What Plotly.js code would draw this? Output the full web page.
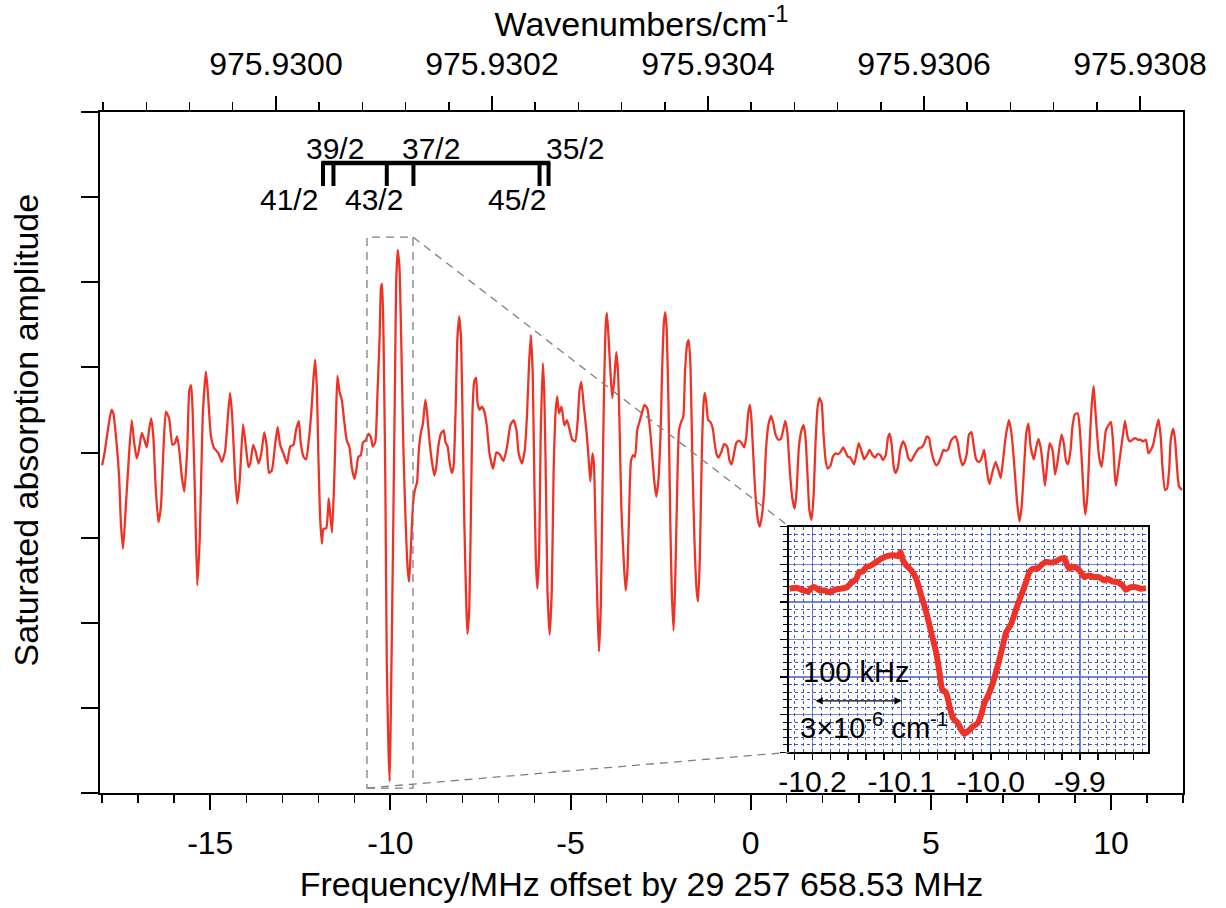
<!DOCTYPE html>
<html>
<head>
<meta charset="utf-8">
<script src="https://cdn.plot.ly/plotly-3.0.1.min.js"></script>
<style>
html,body{margin:0;padding:0;background:#fff;}
#chart{width:1226px;height:908px;}
</style>
</head>
<body>
<div id="chart"></div>
<script>
// ---------------- data ----------------
const freqMHz = [
-18.00,-17.92,-17.83,-17.74,-17.69,-17.60,-17.53,-17.48,-17.42,-17.35,-17.27,-17.18,-17.11,-17.04,-16.98,-16.90,-16.83,-16.76,-16.70,-16.64,
-16.58,-16.51,-16.44,-16.37,-16.30,-16.23,-16.14,-16.05,-15.98,-15.92,-15.86,-15.79,-15.72,-15.64,-15.58,-15.53,-15.49,-15.42,-15.36,-15.29,
-15.21,-15.12,-15.07,-14.98,-14.89,-14.77,-14.68,-14.59,-14.51,-14.45,-14.39,-14.31,-14.25,-14.18,-14.09,-14.01,-13.94,-13.89,-13.81,-13.74,
-13.66,-13.59,-13.50,-13.43,-13.37,-13.29,-13.20,-13.13,-13.06,-12.97,-12.87,-12.78,-12.69,-12.62,-12.54,-12.49,-12.41,-12.34,-12.26,-12.19,
-12.14,-12.09,-12.04,-12.00,-11.95,-11.90,-11.86,-11.78,-11.71,-11.67,-11.62,-11.56,-11.51,-11.47,-11.41,-11.35,-11.27,-11.21,-11.14,-11.07,
-11.00,-10.95,-10.89,-10.82,-10.76,-10.69,-10.61,-10.54,-10.49,-10.42,-10.36,-10.30,-10.26,-10.23,-10.19,-10.14,-10.10,-10.05,-10.02,-9.99,
-9.93,-9.87,-9.84,-9.80,-9.75,-9.70,-9.64,-9.58,-9.52,-9.48,-9.43,-9.37,-9.32,-9.26,-9.21,-9.15,-9.10,-9.03,-8.99,-8.91,
-8.85,-8.78,-8.73,-8.67,-8.60,-8.52,-8.47,-8.41,-8.36,-8.30,-8.25,-8.19,-8.14,-8.09,-8.04,-8.00,-7.95,-7.89,-7.86,-7.81,
-7.76,-7.72,-7.67,-7.62,-7.58,-7.52,-7.46,-7.39,-7.32,-7.25,-7.15,-7.06,-6.97,-6.86,-6.76,-6.67,-6.58,-6.50,-6.44,-6.35,
-6.27,-6.21,-6.15,-6.10,-6.05,-6.00,-5.96,-5.92,-5.87,-5.83,-5.77,-5.73,-5.68,-5.64,-5.58,-5.52,-5.47,-5.41,-5.37,-5.32,
-5.25,-5.17,-5.10,-5.02,-4.95,-4.87,-4.80,-4.75,-4.70,-4.64,-4.56,-4.50,-4.45,-4.39,-4.35,-4.30,-4.25,-4.21,-4.16,-4.12,
-4.07,-4.02,-3.99,-3.94,-3.89,-3.84,-3.78,-3.73,-3.68,-3.64,-3.59,-3.52,-3.47,-3.42,-3.37,-3.32,-3.26,-3.21,-3.15,-3.10,
-3.02,-2.95,-2.87,-2.80,-2.73,-2.67,-2.62,-2.56,-2.50,-2.46,-2.41,-2.37,-2.33,-2.28,-2.23,-2.19,-2.14,-2.10,-2.04,-1.99,
-1.93,-1.87,-1.82,-1.76,-1.72,-1.67,-1.62,-1.56,-1.50,-1.46,-1.41,-1.35,-1.30,-1.27,-1.23,-1.18,-1.12,-1.05,-1.00,-0.94,
-0.89,-0.81,-0.74,-0.65,-0.59,-0.53,-0.47,-0.40,-0.33,-0.25,-0.18,-0.12,-0.07,-0.02,0.02,0.07,0.13,0.20,0.25,0.31,
0.37,0.43,0.50,0.57,0.63,0.69,0.77,0.84,0.89,0.96,1.02,1.08,1.15,1.22,1.27,1.34,1.41,1.47,1.52,1.58,
1.63,1.69,1.75,1.80,1.86,1.91,1.97,2.02,2.08,2.14,2.22,2.28,2.36,2.43,2.50,2.57,2.63,2.70,2.77,2.87,
2.94,3.00,3.08,3.15,3.23,3.30,3.38,3.45,3.52,3.60,3.67,3.75,3.81,3.86,3.91,3.97,4.02,4.09,4.15,4.23,
4.30,4.38,4.45,4.52,4.60,4.67,4.75,4.82,4.89,4.95,5.00,5.08,5.15,5.23,5.30,5.35,5.41,5.49,5.55,5.62,
5.69,5.75,5.81,5.88,5.94,6.00,6.06,6.13,6.18,6.25,6.32,6.39,6.48,6.52,6.58,6.63,6.71,6.80,6.88,6.94,
7.00,7.08,7.17,7.25,7.32,7.39,7.46,7.52,7.60,7.65,7.71,7.77,7.86,7.93,7.99,8.06,8.13,8.17,8.24,8.30,
8.38,8.45,8.51,8.58,8.63,8.69,8.75,8.81,8.88,8.93,9.00,9.08,9.13,9.19,9.25,9.29,9.35,9.41,9.47,9.52,
9.56,9.62,9.67,9.74,9.80,9.86,9.93,10.00,10.06,10.11,10.14,10.20,10.27,10.34,10.39,10.46,10.52,10.60,10.67,10.75,
10.82,10.89,10.97,11.04,11.11,11.17,11.25,11.32,11.38,11.43,11.50,11.56,11.62,11.66,11.73,11.78,11.84,11.89,11.97
];
const amplitude = [
-0.15,0.03,0.30,0.50,0.46,0.11,-0.28,-0.83,-1.13,-0.68,-0.13,0.38,0.11,-0.07,0.03,0.23,0.15,0.06,0.26,0.40,
0.19,-0.44,-0.82,-0.64,0.03,0.48,0.40,0.09,0.11,0.19,0.03,-0.28,-0.46,0.03,0.73,0.79,0.50,-0.56,-1.56,-0.99,
0.42,0.95,0.73,0.19,0.05,-0.01,-0.11,0.01,0.42,0.70,0.42,-0.28,-0.60,-0.32,0.33,0.07,-0.17,-0.13,0.09,0.01,
-0.13,-0.03,0.24,0.07,-0.24,-0.21,0.09,0.30,0.09,-0.01,-0.13,0.07,0.09,0.26,0.37,0.12,-0.05,-0.08,0.16,0.50,
0.84,1.09,0.75,-0.01,-0.77,-1.07,-0.90,-0.89,-0.54,-0.73,-0.94,-0.35,0.41,0.90,0.71,0.62,0.33,0.14,0.07,-0.18,
-0.31,-0.22,-0.05,-0.03,0.12,0.14,0.22,0.18,0.07,0.12,0.67,1.34,1.94,1.98,1.34,-0.35,-2.47,-3.53,-3.86,-3.10,
-1.20,0.92,1.98,2.38,2.19,1.34,0.07,-0.77,-1.37,-1.52,-1.11,-0.60,-0.44,-0.35,0.03,0.24,0.33,0.62,0.50,0.12,
-0.10,-0.27,-0.18,0.07,0.22,0.26,0.12,0.07,-0.10,-0.24,-0.18,0.50,1.34,1.60,1.34,0.50,-0.77,-1.83,-2.13,-1.83,
-0.56,0.50,0.84,0.88,0.58,0.50,0.54,0.48,0.30,-0.01,-0.19,0.00,-0.02,-0.10,0.07,0.32,0.38,0.26,-0.01,-0.13,
0.03,0.42,1.05,1.38,0.93,-0.44,-1.30,-1.60,-1.15,0.15,1.05,0.73,-0.44,-1.62,-2.14,-1.62,-0.24,0.50,0.66,0.46,
0.54,0.32,0.38,0.26,0.15,0.13,0.38,0.73,0.83,0.58,0.26,-0.05,-0.34,-0.01,-0.13,-1.03,-1.85,-2.34,-1.81,-0.64,
0.73,1.52,1.64,1.32,0.93,0.64,0.89,1.18,0.93,0.34,-0.64,-1.30,-1.62,-1.38,-0.64,-0.09,-0.03,-0.05,0.26,0.34,
0.46,0.56,0.52,0.30,-0.05,-0.36,-0.52,-0.32,0.23,0.93,1.52,1.65,1.44,0.54,-0.83,-1.62,-2.09,-1.62,-0.44,0.26,
0.36,0.42,0.97,1.28,1.32,1.01,-0.05,-1.03,-1.62,-1.75,-1.22,0.11,0.62,0.70,0.58,0.38,0.36,0.28,0.11,-0.03,
-0.06,0.01,0.10,0.07,-0.09,-0.14,-0.03,0.11,0.14,0.11,0.06,0.19,0.46,0.56,0.40,-0.01,-0.48,-0.79,-0.87,-0.75,
-0.48,0.07,0.34,0.43,0.34,0.21,0.15,0.16,0.24,0.37,0.23,-0.17,-0.52,-0.66,-0.48,0.07,0.26,0.32,0.19,-0.28,
-0.68,-0.79,-0.48,0.11,0.54,0.64,0.58,0.23,-0.09,-0.19,-0.15,-0.05,-0.01,-0.02,0.01,0.06,0.01,-0.05,-0.06,-0.14,
-0.01,0.11,0.01,-0.08,-0.03,0.03,-0.03,-0.06,-0.02,-0.03,-0.09,-0.03,0.17,0.22,0.11,-0.17,-0.24,-0.17,0.03,0.13,
0.07,-0.07,-0.10,-0.05,0.01,0.05,0.06,0.11,0.19,0.17,0.05,-0.09,-0.15,-0.11,-0.03,0.03,0.02,0.04,0.13,0.17,
0.19,0.11,-0.05,-0.15,-0.11,-0.01,0.21,0.24,0.11,-0.07,-0.11,-0.09,0.03,-0.09,-0.28,-0.37,-0.23,-0.11,-0.21,-0.30,
-0.11,0.19,0.38,0.19,-0.17,-0.56,-0.81,-0.64,-0.09,0.23,0.34,0.07,-0.08,0.07,0.16,0.03,-0.24,-0.39,-0.09,0.11,
0.03,-0.26,-0.13,0.09,0.21,0.11,-0.09,-0.14,0.03,0.30,0.45,0.46,0.30,-0.09,-0.56,-0.73,-0.48,0.11,0.58,0.78,
0.54,0.19,-0.05,-0.17,0.03,0.26,0.32,0.36,0.11,-0.28,-0.39,-0.21,0.01,0.23,0.37,0.19,0.13,0.15,0.17,0.15,
0.15,0.13,0.15,-0.01,0.03,0.09,0.26,0.39,0.19,-0.17,-0.44,-0.42,-0.17,0.15,0.28,0.15,-0.21,-0.40,-0.44
];

// zoomed line shape (inset)
const insetFreq = [
-10.2261,-10.2179,-10.2104,-10.2049,-10.2011,-10.1974,-10.1918,-10.1862,-10.1806,-10.1750,-10.1694,-10.1619,-10.1563,-10.1507,-10.1478,-10.1433,
-10.1396,-10.1358,-10.1284,-10.1228,-10.1172,-10.1097,-10.1041,-10.1011,-10.0985,-10.0948,-10.0892,-10.0836,-10.0780,-10.0724,-10.0668,-10.0612,
-10.0575,-10.0545,-10.0500,-10.0463,-10.0425,-10.0369,-10.0332,-10.0295,-10.0257,-10.0201,-10.0146,-10.0108,-10.0071,-10.0034,-9.9996,-9.9959,
-9.9903,-9.9866,-9.9828,-9.9772,-9.9716,-9.9660,-9.9604,-9.9567,-9.9530,-9.9474,-9.9437,-9.9381,-9.9325,-9.9269,-9.9213,-9.9175,
-9.9146,-9.9119,-9.9063,-9.9007,-9.8951,-9.8896,-9.8840,-9.8784,-9.8728,-9.8690,-9.8634,-9.8578,-9.8522,-9.8485,-9.8429,-9.8373,-9.8317,-9.8261
];
const insetAmp = [
4.348,4.375,4.304,4.277,4.366,4.393,4.304,4.304,4.259,4.321,4.348,4.384,4.509,4.616,4.795,4.813,
4.929,4.955,5.063,5.152,5.214,5.241,5.223,5.330,5.107,4.973,4.839,4.616,4.170,3.723,3.188,2.652,
2.116,1.670,1.580,1.223,0.911,0.777,0.598,0.491,0.554,0.688,0.777,1.000,1.313,1.491,1.714,1.982,
2.473,2.830,3.188,3.411,3.813,4.170,4.527,4.795,4.884,4.884,4.973,5.063,5.045,5.080,5.152,5.170,
4.991,4.884,4.929,4.839,4.661,4.705,4.661,4.661,4.571,4.616,4.545,4.527,4.438,4.321,4.393,4.393,4.348,4.366
];

// hyperfine component markers (MHz) and their F labels
const compFreq  = [-11.87, -11.58, -10.10, -9.36, -5.86, -5.61];
const compLabel = ['41/2', '39/2', '43/2', '37/2', '45/2', '35/2'];
const compSide  = ['low', 'high', 'low', 'high', 'low', 'high'];

// tick labels
const bottomTickVals = [-15, -10, -5, 0, 5, 10];
const bottomTickText = ['-15', '-10', '-5', '0', '5', '10'];
const insetLabelVals = [-10.2, -10.1, -10.0, -9.9];
const insetLabelText = ['-10.2', '-10.1', '-10.0', '-9.9'];

const offsetMHz = 29257658.53;      // frequency offset
const mhzPerWavenumber = 29979.2458; // MHz per cm^-1

// ---------------- layout helpers ----------------
const FONT = 'Liberation Sans, Arial, Helvetica, sans-serif';
const xRange = [-18.06, 12.0];
const wnRange = xRange.map(f => (offsetMHz + f) / mhzPerWavenumber);
const insetXRange = [-10.226, -9.824];
const insetYRange = [0, 6];

const red = '#ee3326';
const gridSolid = '#7486d8';
const gridDot = '#4257c4';

const traces = [
  {x: freqMHz, y: amplitude, type: 'scatter', mode: 'lines',
   line: {color: red, width: 2.3, shape: 'spline', smoothing: 0.5},
   xaxis: 'x', yaxis: 'y', hoverinfo: 'skip', showlegend: false},
  {x: wnRange, y: [0, 0], type: 'scatter', mode: 'lines', opacity: 0,
   line: {width: 1}, xaxis: 'x2', yaxis: 'y', hoverinfo: 'skip', showlegend: false},
  {x: insetXRange, y: [3, 3], type: 'scatter', mode: 'lines', opacity: 0,
   line: {width: 1}, xaxis: 'x4', yaxis: 'y3', hoverinfo: 'skip', showlegend: false},
  {x: insetFreq, y: insetAmp, type: 'scatter', mode: 'lines',
   line: {color: red, width: 6, shape: 'spline', smoothing: 0.4},
   xaxis: 'x3', yaxis: 'y3', hoverinfo: 'skip', showlegend: false}
];

const shapes = [];
// hyperfine comb
shapes.push({type: 'line', xref: 'x', yref: 'paper',
  x0: Math.min(...compFreq) - 0.05, x1: Math.max(...compFreq) + 0.05, y0: 0.9251, y1: 0.9251,
  line: {color: 'black', width: 4.5}});
compFreq.forEach(f => shapes.push({type: 'line', xref: 'x', yref: 'paper',
  x0: f, x1: f, y0: 0.9251, y1: 0.8913, line: {color: 'black', width: 4}}));
// dashed zoom box and connectors
const dash = '8px,6px';
const gray = '#7f7f7f';
shapes.push({type: 'rect', xref: 'paper', yref: 'paper', x0: 0.2465, x1: 0.2890, y0: 0.0073, y1: 0.8164,
  line: {color: gray, width: 1.3, dash: dash}, layer: 'above'});
shapes.push({type: 'line', xref: 'paper', yref: 'paper', x0: 0.2890, y0: 0.8164, x1: 0.6365, y1: 0.3910,
  line: {color: gray, width: 1.3, dash: dash}, layer: 'above'});
shapes.push({type: 'line', xref: 'paper', yref: 'paper', x0: 0.2465, y0: 0.0073, x1: 0.6365, y1: 0.0598,
  line: {color: gray, width: 1.3, dash: dash}, layer: 'above'});

const annotations = [];
const labelShift = {'41/2': -34, '39/2': 2, '43/2': -13, '37/2': 18, '45/2': -23, '35/2': 26};
compFreq.forEach((f, i) => annotations.push({
  x: f, xref: 'x', y: compSide[i] === 'high' ? 0.947 : 0.871, yref: 'paper',
  text: compLabel[i], showarrow: false, xshift: labelShift[compLabel[i]],
  xanchor: 'center', yanchor: 'middle', font: {family: FONT, size: 30, color: 'black'}}));
annotations.push({x: -10.213, xref: 'x3', y: 2.14, yref: 'y3', text: '100 kHz', showarrow: false,
  xanchor: 'left', yanchor: 'middle', font: {family: FONT, size: 29, color: 'black'}});
annotations.push({x: -10.1, y: 1.37, xref: 'x3', yref: 'y3', ax: -10.2, ay: 1.37, axref: 'x3', ayref: 'y3',
  text: ' ', showarrow: true, arrowside: 'end+start', arrowhead: 2, arrowsize: 1.2, arrowwidth: 1.2, arrowcolor: 'black'});
annotations.push({x: -10.216, xref: 'x3', y: 0.70, yref: 'y3', text: '3×10<sup>-6</sup> cm<sup>-1</sup>', showarrow: false,
  xanchor: 'left', yanchor: 'middle', font: {family: FONT, size: 29, color: 'black'}});
// y-axis title (placed as in the reference, slightly above the plot centre)
annotations.push({x: -0.068, xref: 'paper', y: 0.533, yref: 'paper', text: 'Saturated absorption amplitude',
  textangle: -90, showarrow: false, xanchor: 'center', yanchor: 'middle',
  font: {family: FONT, size: 34, color: 'black'}});

const tickFont = {family: FONT, size: 32, color: 'black'};
const titleFont = {family: FONT, size: 34, color: 'black'};

const layout = {
  width: 1226, height: 908,
  margin: {l: 100, r: 43, t: 112, b: 115, pad: 0},
  paper_bgcolor: 'white', plot_bgcolor: 'white',
  font: {family: FONT, color: 'black'},
  showlegend: false,
  xaxis: {range: xRange, domain: [0, 1], anchor: 'y',
    tickmode: 'array', tickvals: bottomTickVals, ticktext: bottomTickText,
    ticks: 'outside', ticklen: 15, tickwidth: 2, tickcolor: 'black',
    minor: {tickmode: 'linear', tick0: 0, dtick: 1, ticks: 'outside', ticklen: 8, tickwidth: 1.5, tickcolor: 'black', showgrid: false},
    showline: true, linewidth: 2, linecolor: 'black', zeroline: false, showgrid: false,
    tickfont: tickFont, ticklabelstandoff: 6,
    title: {text: 'Frequency/MHz offset by 29 257 658.53 MHz', font: titleFont, standoff: 12},
    automargin: false},
  xaxis2: {range: wnRange, overlaying: 'x', side: 'top', anchor: 'y',
    tickmode: 'linear', tick0: 975.93, dtick: 0.0002, tickformat: '.4f',
    ticks: 'outside', ticklen: 14, tickwidth: 2, tickcolor: 'black',
    minor: {tickmode: 'linear', tick0: 975.93, dtick: 0.00004, ticks: 'outside', ticklen: 8, tickwidth: 1.5, tickcolor: 'black', showgrid: false},
    showline: true, linewidth: 2, linecolor: 'black', zeroline: false, showgrid: false,
    tickfont: tickFont, ticklabelstandoff: 8,
    title: {text: 'Wavenumbers/cm<sup>-1</sup>', font: titleFont, standoff: 1},
    automargin: false},
  yaxis: {range: [-4, 4], domain: [0, 1], anchor: 'x',
    tickmode: 'linear', tick0: 0, dtick: 1,
    ticks: 'outside', ticklen: 17, tickwidth: 2, tickcolor: 'black',
    showticklabels: false, showline: true, linewidth: 2, linecolor: 'black', mirror: true,
    zeroline: false, showgrid: false, automargin: false},
  xaxis3: {range: insetXRange, domain: [0.6365, 0.9674], anchor: 'y3',
    tickmode: 'array', tickvals: insetLabelVals, ticktext: insetLabelText,
    ticks: 'outside', ticklen: 6, tickwidth: 1.5, tickcolor: 'black',
    minor: {tickmode: 'linear', tick0: -10.2, dtick: 0.02, ticks: 'outside', ticklen: 6, tickwidth: 1.5, tickcolor: 'black', showgrid: false},
    showline: true, linewidth: 2, linecolor: 'black', mirror: true,
    zeroline: false, showgrid: true, gridcolor: gridSolid, gridwidth: 1.2,
    tickfont: {family: FONT, size: 30, color: 'black'}, ticklabelstandoff: -4, automargin: false},
  xaxis4: {range: insetXRange, overlaying: 'x3', anchor: 'y3', side: 'bottom',
    tickmode: 'linear', tick0: -10.2, dtick: 0.01, ticks: '', showticklabels: false,
    showline: false, zeroline: false, showgrid: true,
    gridcolor: gridDot, griddash: 'dot', gridwidth: 1, automargin: false},
  yaxis3: {range: insetYRange, domain: [0.0598, 0.3910], anchor: 'x3',
    tickmode: 'linear', tick0: 0, dtick: 1,
    ticks: 'outside', ticklen: 7, tickwidth: 1.5, tickcolor: 'black', showticklabels: false,
    minor: {tickmode: 'linear', tick0: 0, dtick: 0.2, ticks: 'outside', ticklen: 4, tickwidth: 1, tickcolor: 'black',
            showgrid: true, gridcolor: gridDot, griddash: 'dot', gridwidth: 1},
    showline: true, linewidth: 2, linecolor: 'black', mirror: true,
    zeroline: false, showgrid: true, gridcolor: gridSolid, gridwidth: 1.2, automargin: false},
  shapes: shapes,
  annotations: annotations
};

Plotly.newPlot('chart', traces, layout, {staticPlot: true, displayModeBar: false});
</script>
</body>
</html>
